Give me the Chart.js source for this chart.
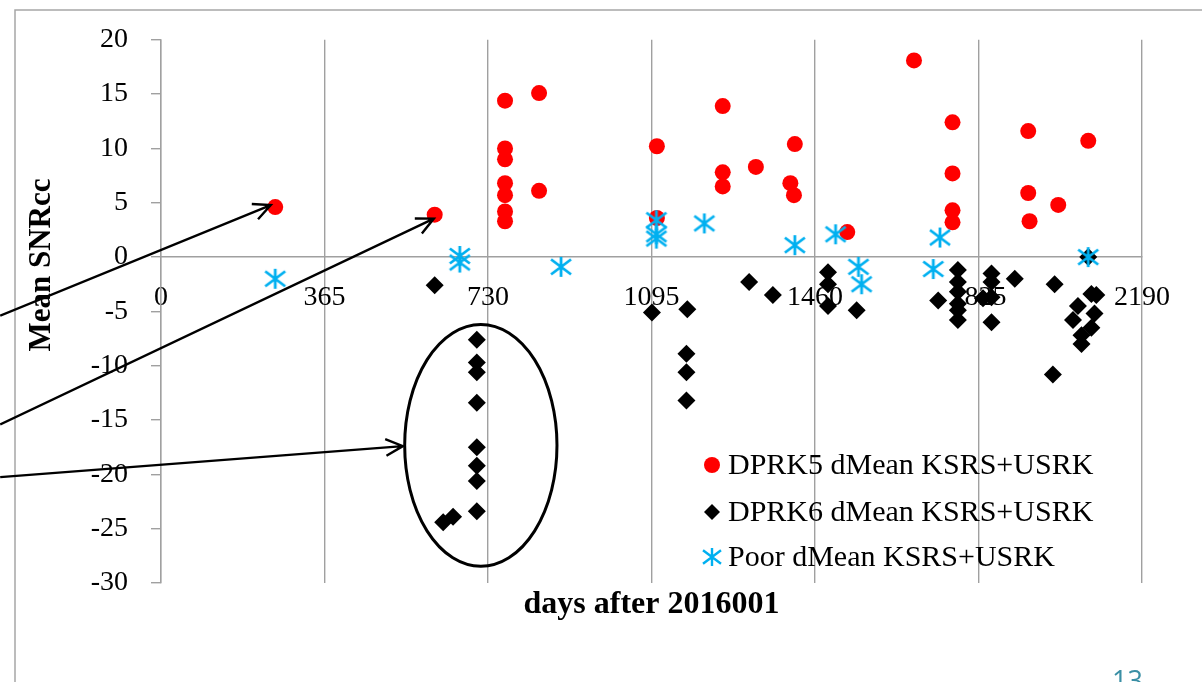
<!DOCTYPE html>
<html>
<head>
<meta charset="utf-8">
<script src="https://cdn.jsdelivr.net/npm/chart.js@4/dist/chart.umd.min.js"></script>
<style>
  html, body { margin: 0; padding: 0; background: #fff; }
  #wrap { position: relative; width: 1202px; height: 682px; overflow: hidden; }
</style>
</head>
<body>
<div id="wrap"><canvas id="chart" width="1202" height="682"></canvas></div>
<script>
// 軸の設定値
const X_MIN = 0, X_MAX = 2190, X_STEP = 365;
const Y_MIN = -30, Y_MAX = 20, Y_STEP = 5;
const X_TITLE = 'days after 2016001';
const Y_TITLE = 'Mean SNRcc';

// 系列名
const SERIES_NAMES = [
  'DPRK5 dMean KSRS+USRK',
  'DPRK6 dMean KSRS+USRK',
  'Poor dMean KSRS+USRK',
];

// DPRK5（赤丸）
const dprk5Days = [255, 611,
  768, 768, 768, 768, 768, 768, 768,
  844, 844,
  1107, 1107,
  1254, 1254, 1254,
  1328,
  1415, 1405, 1413,
  1532,
  1681,
  1767, 1767, 1767, 1767,
  1936, 1936, 1939,
  2003,
  2070];
const dprk5Snr = [4.6, 3.9,
  14.4, 10.0, 9.0, 6.8, 5.7, 4.2, 3.3,
  15.1, 6.1,
  10.2, 3.6,
  13.9, 7.8, 6.5,
  8.3,
  10.4, 6.8, 5.7,
  2.3,
  18.1,
  12.4, 7.7, 4.3, 3.2,
  11.6, 5.9, 3.3,
  4.8,
  10.7];

// DPRK6（黒ひし形）
const dprk6Days = [611,
  705, 705, 705, 705, 705, 705, 705, 705,
  630, 652,
  1096, 1175,
  1173, 1173, 1173,
  1313, 1366,
  1489, 1489, 1489,
  1553, 1735,
  1779, 1779, 1779, 1779, 1779, 1779,
  1854, 1854, 1854, 1835, 1854,
  1906, 1995, 1991,
  2070, 2077, 2088, 2047, 2084, 2036, 2077, 2055, 2055];
const dprk6Snr = [-2.6,
  -7.6, -9.7, -10.6, -13.4, -17.5, -19.2, -20.6, -23.4,
  -24.4, -23.9,
  -5.1, -4.8,
  -8.9, -10.6, -13.2,
  -2.3, -3.5,
  -1.4, -2.5, -4.5,
  -4.9, -4.0,
  -1.2, -2.3, -3.2, -4.3, -4.9, -5.8,
  -1.5, -2.3, -3.7, -3.8, -6.0,
  -2.0, -2.5, -10.8,
  0.0, -3.4, -3.5, -4.5, -5.2, -5.8, -6.5, -7.2, -8.0];

// Poor（水色アスタリスク）
const poorDays = [255, 667, 667, 893, 1106, 1106, 1106, 1213, 1415, 1506, 1557, 1564, 1739, 1724, 2070];
const poorSnr = [-2.0, 0.1, -0.5, -0.9, 3.4, 2.1, 1.7, 3.1, 1.1, 2.1, -0.9, -2.5, 1.8, -1.1, 0.0];

// 注釈（データ座標）：矢印と楕円
const arrowFrom = [[-359, -5.4], [-359, -15.4], [-359, -20.25]];
const arrowTo = [[245, 4.78], [609, 3.54], [540, -17.4]];
const ellipseCenter = [714, -17.33];
const ellipseRadius = [170, 11.13];

const COLORS = { dprk5: '#FF0000', dprk6: '#000000', poor: '#00B0F0', grid: '#A0A0A0' };
const SERIF = "'Liberation Serif', 'Times New Roman', serif";

// 配列をChart.js用の点に変換
function toPoints(xs, ys) {
  return xs.map((x, i) => ({ x, y: ys[i] }));
}

// アスタリスク型マーカー（縦線＋X）
function makeAsterisk(size, color, lw) {
  const c = document.createElement('canvas');
  c.width = size; c.height = size;
  const g = c.getContext('2d');
  const m = size / 2, r = size / 2 - 2;
  g.strokeStyle = color;
  g.lineWidth = lw;
  g.beginPath();
  g.moveTo(m, m - r); g.lineTo(m, m + r);
  g.moveTo(m - r, m - r * 0.75); g.lineTo(m + r, m + r * 0.75);
  g.moveTo(m - r, m + r * 0.75); g.lineTo(m + r, m - r * 0.75);
  g.stroke();
  return c;
}
const asterisk = makeAsterisk(24, COLORS.poor, 2.8);
const asteriskSmall = makeAsterisk(22, COLORS.poor, 2.4);

// 注釈・凡例・枠を手描きするプラグイン
const decorPlugin = {
  id: 'decor',
  afterDraw(chart) {
    const ctx = chart.ctx;
    const xs = chart.scales.x, ys = chart.scales.y;
    const px = v => xs.getPixelForValue(v);
    const py = v => ys.getPixelForValue(v);
    ctx.save();

    // スライドの枠線
    ctx.strokeStyle = '#A6A6A6';
    ctx.lineWidth = 1.5;
    ctx.beginPath();
    ctx.moveTo(15, 682); ctx.lineTo(15, 10); ctx.lineTo(1202, 10);
    ctx.stroke();

    // Y軸タイトル
    ctx.fillStyle = '#000';
    ctx.font = `bold 31px ${SERIF}`;
    ctx.textAlign = 'center';
    ctx.textBaseline = 'alphabetic';
    ctx.save();
    ctx.translate(50, 265);
    ctx.rotate(-Math.PI / 2);
    ctx.fillText(Y_TITLE, 0, 0);
    ctx.restore();

    // 矢印
    ctx.strokeStyle = '#000';
    ctx.lineWidth = 2.4;
    arrowFrom.forEach((f, i) => {
      const x1 = px(f[0]), y1 = py(f[1]);
      const x2 = px(arrowTo[i][0]), y2 = py(arrowTo[i][1]);
      const a = Math.atan2(y2 - y1, x2 - x1);
      const head = 19, spread = 0.45;
      ctx.beginPath();
      ctx.moveTo(x1, y1); ctx.lineTo(x2, y2);
      ctx.moveTo(x2 - head * Math.cos(a - spread), y2 - head * Math.sin(a - spread));
      ctx.lineTo(x2, y2);
      ctx.lineTo(x2 - head * Math.cos(a + spread), y2 - head * Math.sin(a + spread));
      ctx.stroke();
    });

    // 楕円
    const cx = px(ellipseCenter[0]), cy = py(ellipseCenter[1]);
    const rx = px(ellipseCenter[0] + ellipseRadius[0]) - cx;
    const ry = cy - py(ellipseCenter[1] + ellipseRadius[1]);
    ctx.lineWidth = 3;
    ctx.beginPath();
    ctx.ellipse(cx, cy, rx, ry, 0, 0, Math.PI * 2);
    ctx.stroke();

    // 凡例
    const lx = 712, ty = [465, 512, 557];
    ctx.fillStyle = COLORS.dprk5;
    ctx.beginPath(); ctx.arc(lx, ty[0], 8, 0, Math.PI * 2); ctx.fill();
    ctx.fillStyle = COLORS.dprk6;
    ctx.beginPath();
    ctx.moveTo(lx - 8, ty[1]); ctx.lineTo(lx, ty[1] - 8); ctx.lineTo(lx + 8, ty[1]); ctx.lineTo(lx, ty[1] + 8);
    ctx.closePath(); ctx.fill();
    ctx.drawImage(asteriskSmall, lx - 11, ty[2] - 11);
    ctx.fillStyle = '#000';
    ctx.font = `30px ${SERIF}`;
    ctx.textAlign = 'left';
    ctx.textBaseline = 'middle';
    SERIES_NAMES.forEach((name, i) => ctx.fillText(name, 728, ty[i] + 1));

    // ページ番号
    ctx.fillStyle = '#3A8FA5';
    ctx.font = "27px 'Open Sans', 'DejaVu Sans', sans-serif";
    ctx.textAlign = 'left';
    ctx.textBaseline = 'alphabetic';
    ctx.fillText('13', 1112, 690);

    ctx.restore();
  },
};

new Chart(document.getElementById('chart'), {
  type: 'scatter',
  data: {
    datasets: [
      {
        label: SERIES_NAMES[0],
        data: toPoints(dprk5Days, dprk5Snr),
        pointStyle: 'circle',
        pointRadius: 8,
        backgroundColor: COLORS.dprk5,
        borderColor: COLORS.dprk5,
        borderWidth: 0,
        order: 3,
      },
      {
        label: SERIES_NAMES[1],
        data: toPoints(dprk6Days, dprk6Snr),
        pointStyle: 'rectRot',
        pointRadius: 9,
        backgroundColor: COLORS.dprk6,
        borderColor: COLORS.dprk6,
        borderWidth: 0,
        order: 2,
      },
      {
        label: SERIES_NAMES[2],
        data: toPoints(poorDays, poorSnr),
        pointStyle: asterisk,
        pointRadius: 12,
        backgroundColor: COLORS.poor,
        borderColor: COLORS.poor,
        order: 1,
      },
    ],
  },
  options: {
    responsive: false,
    animation: false,
    layout: { padding: { left: 0, top: 39, right: 60, bottom: 0 } },
    plugins: {
      legend: { display: false },
      tooltip: { enabled: false },
    },
    scales: {
      x: {
        type: 'linear',
        position: { y: 0 },
        min: X_MIN,
        max: X_MAX,
        ticks: {
          stepSize: X_STEP,
          color: '#000',
          font: { family: SERIF, size: 28 },
          padding: 24,
          maxRotation: 0,
          autoSkip: false,
          callback: v => String(v),
        },
        grid: { color: COLORS.grid, lineWidth: 1.4, drawTicks: false },
        border: { color: COLORS.grid, width: 1.4 },
      },
      xt: {
        type: 'linear',
        position: 'bottom',
        min: X_MIN,
        max: X_MAX,
        ticks: { display: false },
        grid: { display: false, drawTicks: false },
        border: { display: false },
        title: {
          display: true,
          text: X_TITLE,
          color: '#000',
          font: { family: SERIF, size: 32, weight: 'bold' },
          padding: { top: 0, bottom: 58 },
        },
        afterFit(s) { s.height = 99; },
      },
      y: {
        type: 'linear',
        position: 'left',
        min: Y_MIN,
        max: Y_MAX,
        ticks: {
          stepSize: Y_STEP,
          color: '#000',
          font: { family: SERIF, size: 28 },
          padding: 23,
          callback: v => String(v),
        },
        grid: { color: COLORS.grid, lineWidth: 1.4, drawOnChartArea: false, drawTicks: true, tickLength: 10 },
        border: { color: COLORS.grid, width: 1.4 },
        afterFit(s) { s.width = 161; },
      },
    },
  },
  plugins: [decorPlugin],
});
</script>
</body>
</html>
